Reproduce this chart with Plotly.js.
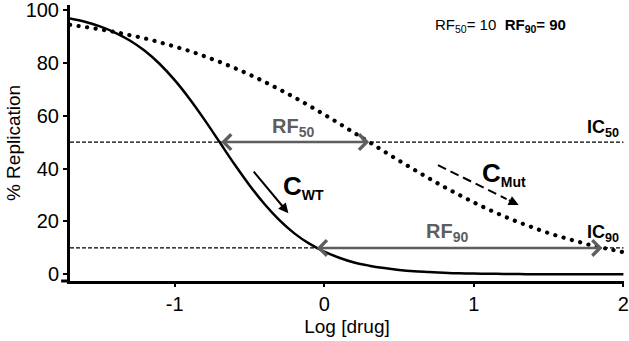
<!DOCTYPE html>
<html>
<head>
<meta charset="utf-8">
<script src="https://cdn.plot.ly/plotly-3.0.1.min.js"></script>
<style>
  html, body { margin: 0; padding: 0; background: #fff; }
  #chart { width: 629px; height: 341px; }
  .scatterlayer .trace:nth-child(2) .js-line { stroke-linecap: round; }
</style>
</head>
<body>
<div id="chart"></div>
<script>
// ---- data ----
const logDose = [-1.7,-1.6,-1.5,-1.4,-1.3,-1.2,-1.1,-1.0,-0.9,-0.8,-0.7,-0.6,-0.5,-0.4,-0.3,-0.2,-0.1,0.0,0.1,0.2,0.3,0.4,0.5,0.6,0.7,0.8,0.9,1.0,1.1,1.2,1.3,1.4,1.5,1.6,1.7,1.8,1.9,2.0];
const replicationWT = [96.7,95.5,93.7,91.4,88.4,84.5,79.5,73.4,66.3,58.4,50.0,41.6,33.7,26.6,20.5,15.5,11.6,8.6,6.3,4.5,3.3,2.4,1.7,1.2,0.9,0.6,0.4,0.3,0.23,0.16,0.11,0.08,0.06,0.04,0.03,0.02,0.01,0.01];
const replicationMut = [94.3,93.5,92.6,91.6,90.4,89.2,87.7,86.1,84.4,82.4,80.3,78.0,75.5,72.8,69.9,66.9,63.7,60.4,57.0,53.5,50.0,46.5,43.0,39.6,36.3,33.1,30.1,27.2,24.5,22.0,19.7,17.6,15.6,13.9,12.3,10.8,9.6,8.4];
const icLevels = [50, 10];            // % replication of the IC50 / IC90 reference lines
const ic50 = [-0.70, 0.30];           // log IC50: WT, Mut
const ic90 = [-0.06, 1.86];           // log IC90: WT, Mut
const xTickVals = [-1, 0, 1, 2];
const xTickText = ['-1', '0', '1', '2'];
const yTickVals = [0, 20, 40, 60, 80, 100];
const yTickText = ['0', '20', '40', '60', '80', '100'];
const wtArrowX = [-0.48, -0.24];      // C_WT trend arrow (start, end)
const wtArrowY = [39.4, 23.1];
const mutArrowX = [0.76, 1.30];       // C_Mut trend arrow (start, end)
const mutArrowY = [41.3, 26.2];

const FONT = 'Liberation Sans, Arial, Helvetica, sans-serif';
const GREY = '#5e5e5e';

const traces = [
  { x: logDose, y: replicationWT, mode: 'lines', line: { color: '#000', width: 2.5, shape: 'spline' }, hoverinfo: 'skip' },
  { x: logDose, y: replicationMut, mode: 'lines', line: { color: '#000', width: 4.2, shape: 'spline', dash: '0.1px,8.5px' }, hoverinfo: 'skip' },
  { x: [mutArrowX[0], mutArrowX[0] + (mutArrowX[1]-mutArrowX[0])*0.85], y: [mutArrowY[0], mutArrowY[0] + (mutArrowY[1]-mutArrowY[0])*0.85],
    mode: 'lines', line: { color: '#000', width: 2, dash: '9px,5px' }, hoverinfo: 'skip' }
];

const shapes = icLevels.map(v => ({
  type: 'line', xref: 'x', yref: 'y', x0: -1.7, x1: 2.0, y0: v, y1: v,
  line: { color: '#000', width: 1.2, dash: '4px,2px' }, layer: 'below'
}));
shapes.push({ type: 'line', xref: 'paper', yref: 'paper', x0: -0.016, x1: 0, y0: 0, y1: 0, line: { color: '#000', width: 3 } });

const annotations = [
  { x: ic50[1], y: icLevels[0], ax: ic50[0], ay: icLevels[0], xref: 'x', yref: 'y', axref: 'x', ayref: 'y',
    text: '', showarrow: true, arrowhead: 4, startarrowhead: 4, arrowside: 'end+start', arrowsize: 1.2, startarrowsize: 1.2,
    arrowwidth: 2.5, arrowcolor: GREY, standoff: 0, startstandoff: 0 },
  { x: ic90[1], y: icLevels[1], ax: ic90[0], ay: icLevels[1], xref: 'x', yref: 'y', axref: 'x', ayref: 'y',
    text: '', showarrow: true, arrowhead: 4, startarrowhead: 4, arrowside: 'end+start', arrowsize: 1.2, startarrowsize: 1.2,
    arrowwidth: 2.5, arrowcolor: GREY, standoff: 0, startstandoff: 0 },
  { x: wtArrowX[1], y: wtArrowY[1], ax: wtArrowX[0], ay: wtArrowY[0], xref: 'x', yref: 'y', axref: 'x', ayref: 'y',
    text: '', showarrow: true, arrowhead: 2, arrowsize: 1, arrowwidth: 2, arrowcolor: '#000', standoff: 0 },
  { x: mutArrowX[1], y: mutArrowY[1], ax: mutArrowX[0] + (mutArrowX[1]-mutArrowX[0])*0.86, ay: mutArrowY[0] + (mutArrowY[1]-mutArrowY[0])*0.86,
    xref: 'x', yref: 'y', axref: 'x', ayref: 'y',
    text: '', showarrow: true, arrowhead: 2, arrowsize: 1, arrowwidth: 2, arrowcolor: '#000', standoff: 0 },
  { x: -0.21, y: 55.5, xref: 'x', yref: 'y', showarrow: false, text: '<b>RF<sub>50</sub></b>',
    font: { family: FONT, size: 20, color: GREY }, xanchor: 'center', yanchor: 'middle' },
  { x: 0.82, y: 15.8, xref: 'x', yref: 'y', showarrow: false, text: '<b>RF<sub>90</sub></b>',
    font: { family: FONT, size: 20, color: GREY }, xanchor: 'center', yanchor: 'middle' },
  { x: -0.29, y: 33, xref: 'x', yref: 'y', showarrow: false,
    text: '<b>C<sub><span style="font-size:14px">WT</span></sub></b>',
    font: { family: FONT, size: 26, color: '#000' }, xanchor: 'left', yanchor: 'middle' },
  { x: 1.04, y: 38, xref: 'x', yref: 'y', showarrow: false,
    text: '<b>C<sub><span style="font-size:14px">Mut</span></sub></b>',
    font: { family: FONT, size: 26, color: '#000' }, xanchor: 'left', yanchor: 'middle' },
  { x: 1.985, y: 55, xref: 'x', yref: 'y', showarrow: false, text: '<b>IC<sub>50</sub></b>',
    font: { family: FONT, size: 18, color: '#000' }, xanchor: 'right', yanchor: 'middle' },
  { x: 1.985, y: 15.5, xref: 'x', yref: 'y', showarrow: false, text: '<b>IC<sub>90</sub></b>',
    font: { family: FONT, size: 18, color: '#000' }, xanchor: 'right', yanchor: 'middle' },
  { x: 1.175, y: 94, xref: 'x', yref: 'y', showarrow: false,
    text: 'RF<sub>50</sub>= 10  <b>RF<sub>90</sub>= 90</b>',
    font: { family: FONT, size: 15, color: '#000' }, xanchor: 'center', yanchor: 'middle' }
];

const layout = {
  width: 629, height: 341,
  margin: { l: 70, r: 5, t: 5, b: 60 },
  paper_bgcolor: '#fff', plot_bgcolor: '#fff',
  showlegend: false,
  font: { family: FONT, color: '#000' },
  xaxis: {
    range: [-1.7, 2.004], showgrid: false, zeroline: false,
    showline: true, linecolor: '#000', linewidth: 3,
    ticks: 'outside', ticklen: 3, tickwidth: 2, tickcolor: '#000',
    tickmode: 'array', tickvals: xTickVals, ticktext: xTickText, ticklabeloverflow: 'allow',
    tickfont: { family: FONT, size: 20, color: '#000' },
    title: { text: 'Log [drug]', font: { family: FONT, size: 19, color: '#000' }, standoff: 6 }
  },
  yaxis: {
    range: [-2.5, 101.8], showgrid: false, zeroline: false,
    showline: true, linecolor: '#000', linewidth: 3,
    ticks: 'outside', ticklen: 4, tickwidth: 2, tickcolor: '#000',
    tickmode: 'array', tickvals: yTickVals, ticktext: yTickText, ticklabeloverflow: 'allow',
    tickfont: { family: FONT, size: 20, color: '#000' },
    title: { text: '% Replication', font: { family: FONT, size: 19, color: '#000' }, standoff: 0 }
  },
  shapes: shapes,
  annotations: annotations
};

Plotly.newPlot('chart', traces, layout, { staticPlot: true, displayModeBar: false });
</script>
</body>
</html>
